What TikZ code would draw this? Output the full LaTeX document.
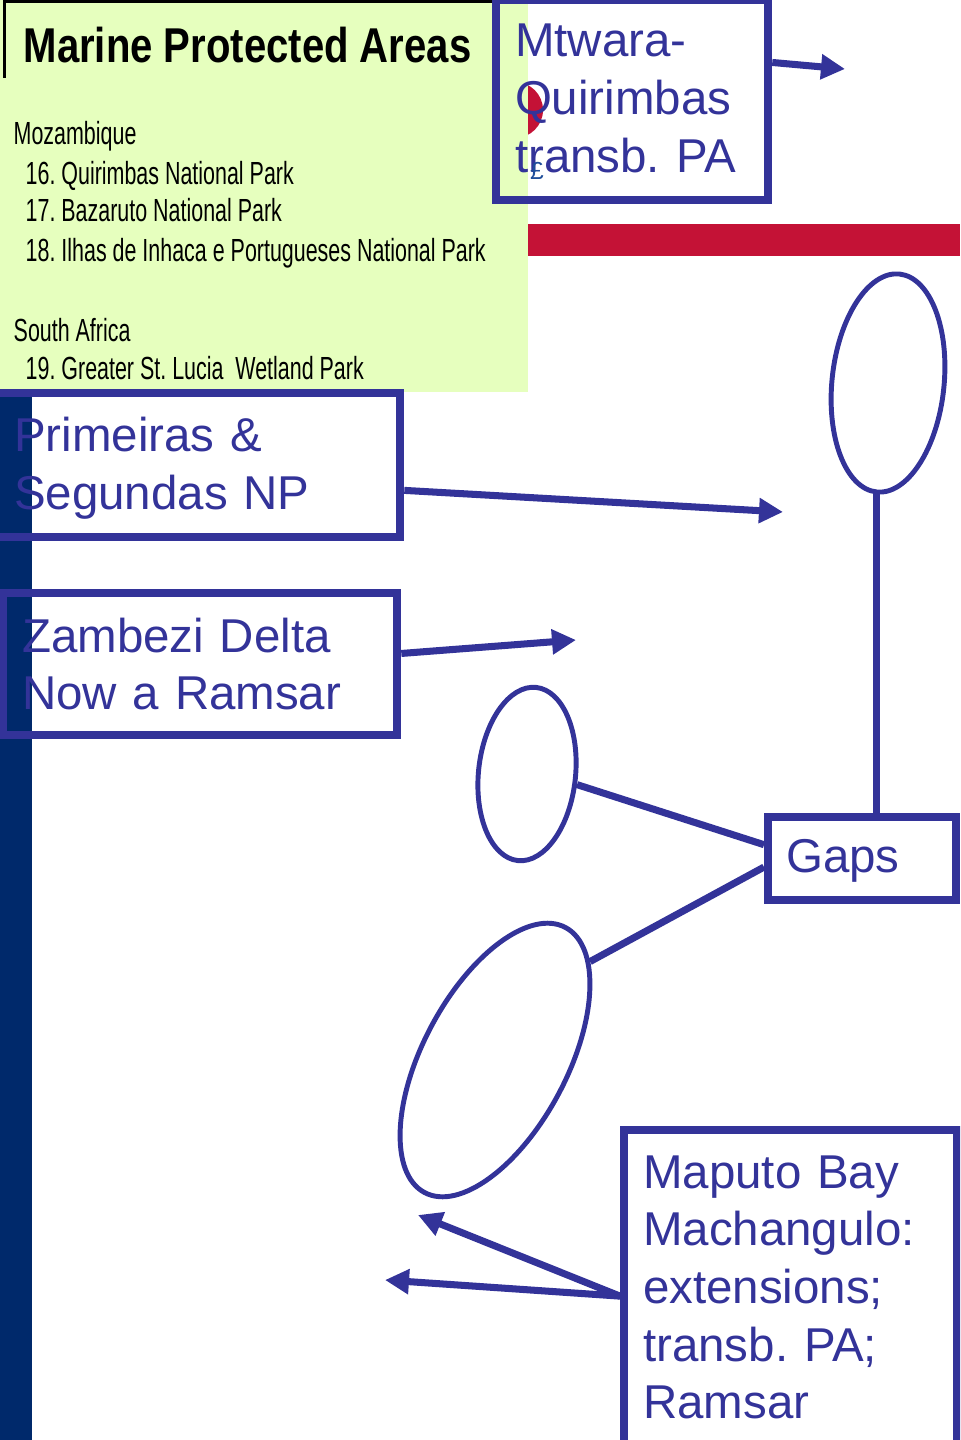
\documentclass[tikz,border=0pt]{standalone}
\usepackage{fontspec}
\setmainfont{Liberation Sans}
\usepackage{graphicx}
\usetikzlibrary{arrows.meta,shapes.geometric}
\frenchspacing
\definecolor{mpablue}{RGB}{51,51,153}
\definecolor{mpanavy}{RGB}{0,41,107}
\definecolor{mpared}{RGB}{196,18,54}
\definecolor{mpagreen}{RGB}{230,255,190}
\definecolor{mpaink}{RGB}{31,78,154}
\tikzset{
    areabox/.style={draw=mpablue, line width=2.3pt, text=mpablue, align=left,
        anchor=base west, inner xsep=0.19cm, inner ysep=0pt,
        font=\fontsize{13.5}{16.4}\selectfont},
    blob/.style={draw=mpablue, line width=1.4pt, ellipse, inner sep=0pt},
    pointer/.style={draw=mpablue, line width=2pt, -{Triangle[length=0.24cm,width=0.24cm]}},
    tie/.style={draw=mpablue, line width=2pt},
    listline/.style={anchor=base west, inner sep=0pt, font=\fontsize{9.1}{11.2}\selectfont}
}
\begin{document}
\begin{tikzpicture}[x=0.01cm, y=-0.01cm]
        \useasboundingbox (0,0) rectangle (960,1440);
        \clip (0,0) rectangle (960,1440);
        % map panel
        \fill [mpared] (515,110) circle (28);
        \fill [mpagreen] (0,0) rectangle (528,392);
        \draw [line width=0.85pt] (4.5,0) -- (4.5,78);
        \draw [line width=0.85pt] (4,1.5) -- (493,1.5);
        \node [anchor=base west, inner sep=0pt, font=\fontsize{13.9}{16}\selectfont\bfseries] (title) at (23,63) {\scalebox{0.82}[1]{Marine Protected Areas}};
        \foreach \ypos/\xpos/\entry in {145/13/Mozambique, 185/25/16. Quirimbas National Park,
                222/25/17. Bazaruto National Park, 262/25/18. Ilhas de Inhaca e Portugueses National Park,
                342/13/South Africa, 380/25/19. Greater St. Lucia\ \ Wetland Park}
            \node [listline] (item\ypos) at (\xpos,\ypos) {\scalebox{0.67}[1]{\entry}};
        \fill [mpanavy] (0,392) rectangle (32,1440);
        \fill [mpared] (528,224) rectangle (960,256);
        % boxes
        \node [areabox, text width=2.34cm, text height=0.57cm, text depth=1.43cm] (mtwara) at (492,57) {Mtwara-\\Quirimbas\\transb. PA};
        \node [areabox, text width=3.67cm, text height=0.59cm, text depth=0.85cm] (prim) at (-9,452) {Primeiras \&\\Segundas NP};
        \node [areabox, text width=3.56cm, text height=0.59cm, text depth=0.83cm] (zamb) at (-1,652) {Zambezi Delta\\Now a Ramsar};
        \node [areabox, inner xsep=0.18cm, text width=1.52cm, text height=0.55cm, text depth=0.28cm] (gaps) at (764,872) {Gaps};
        \node [areabox, text width=2.95cm, text height=0.58cm, text depth=2.92cm] (maputo) at (620,1188) {Maputo Bay\\Machangulo:\\extensions;\\transb. PA;\\Ramsar};
        % gaps
        \node [blob, minimum width=1.12cm, minimum height=2.19cm, rotate=-6] (e1) at (888,383) {};
        \node [blob, minimum width=0.97cm, minimum height=1.74cm, rotate=-6] (e2) at (527,774) {};
        \node [blob, minimum width=1.44cm, minimum height=3.0cm, rotate=-28] (e3) at (495,1060) {};
        \draw [tie] (e1.south) -- (e1.south |- gaps.north);
        \draw [tie] (gaps.172) -- (e2.-6);
        \draw [tie] (gaps.185) -- (e3.74);
        % arrows
        \coordinate (mtip) at (845,69);
        \coordinate (ptip) at (783,512);
        \coordinate (ztip) at (576,640);
        \coordinate (atip) at (418,1215);
        \coordinate (btip) at (385,1280);
        \draw [pointer] (mtwara.15) -- (mtip);
        \draw [pointer] (prim.-7) -- (ptip);
        \draw [pointer] (zamb.3) -- (ztip);
        \draw [pointer] (maputo.177) -- (atip);
        \draw [pointer] (maputo.177) -- (btip);
        \node [inner sep=0pt, text=mpaink, font=\fontsize{7}{8}\selectfont] (mark) at (537,171) {£};
\end{tikzpicture}
\end{document}
